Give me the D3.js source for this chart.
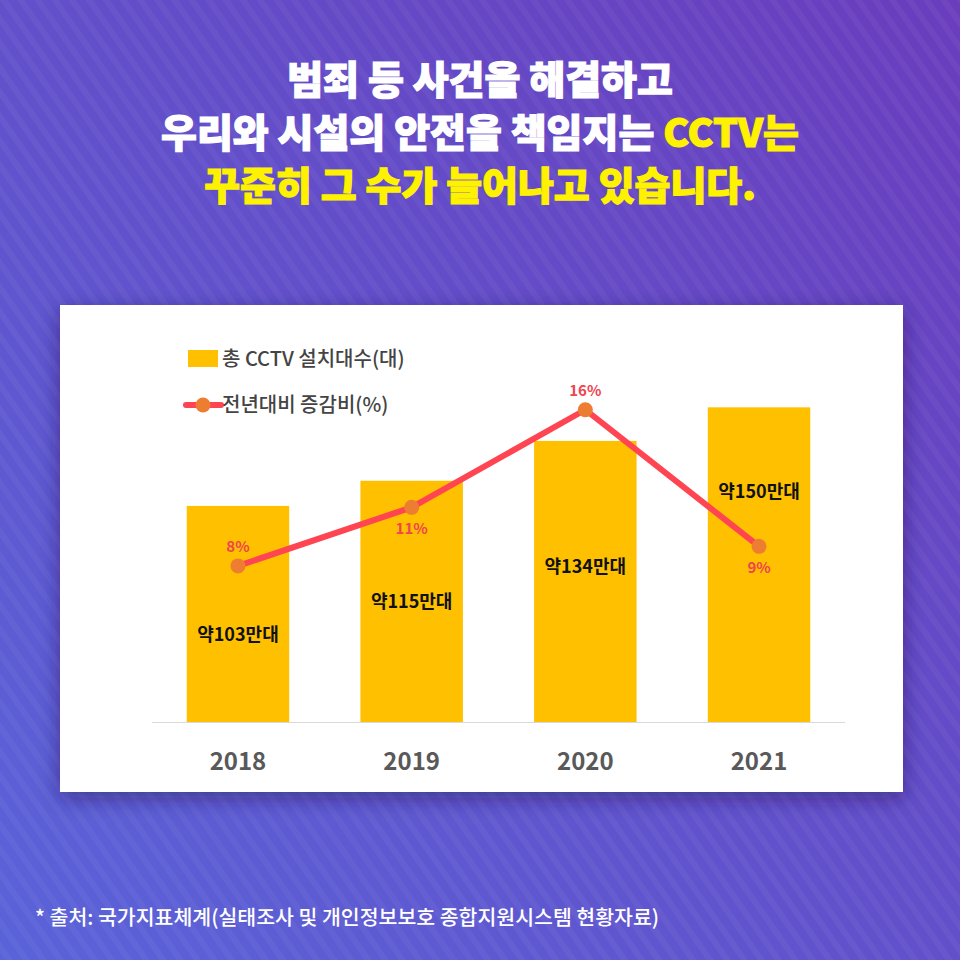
<!DOCTYPE html>
<html><head><meta charset="utf-8">
<script src="https://cdn.jsdelivr.net/npm/d3@7"></script>
<style>body{margin:0}svg{display:block;font-family:"Noto Sans CJK KR","Noto Sans",sans-serif}</style>
</head><body><svg id="c" width="960" height="960"></svg>
<script>
const years = ['2018', '2019', '2020', '2021'];
const units = [103, 115, 134, 150];       // 만대
const growth = [8, 11, 16, 9];             // %
const unitLabels = ['약103만대', '약115만대', '약134만대', '약150만대'];
const growthLabels = ['8%', '11%', '16%', '9%'];

const svg = d3.select('#c');
const defs = svg.append('defs');
const bg = defs.append('linearGradient').attr('id', 'bg').attr('x1', 0).attr('y1', 1).attr('x2', 1).attr('y2', 0);
bg.append('stop').attr('offset', 0).attr('stop-color', '#5a63d8');
bg.append('stop').attr('offset', 1).attr('stop-color', '#6a3dbd');
const pat = defs.append('pattern').attr('id', 'stripes').attr('width', 14).attr('height', 14)
  .attr('patternUnits', 'userSpaceOnUse').attr('patternTransform', 'rotate(-35)');
pat.append('rect').attr('width', 6).attr('height', 14).attr('fill', 'rgba(255,255,255,0.04)');
const sh = defs.append('filter').attr('id', 'sh').attr('x', -0.1).attr('y', -0.1).attr('width', 1.2).attr('height', 1.3);
sh.append('feDropShadow').attr('dx', 0).attr('dy', 6).attr('stdDeviation', 10).attr('flood-color', '#1a0a50').attr('flood-opacity', 0.5);

svg.append('rect').attr('width', 960).attr('height', 960).attr('fill', 'url(#bg)');
svg.append('rect').attr('width', 960).attr('height', 960).attr('fill', 'url(#stripes)');

// title
const title = svg.append('g').attr('font-weight', 900).attr('font-size', 39).attr('text-anchor', 'middle')
  .attr('stroke-width', 1.2);
title.append('text').attr('x', 480).attr('y', 94).attr('fill', '#fff').attr('stroke', '#fff').text('범죄 등 사건을 해결하고');
const t2 = title.append('text').attr('x', 480).attr('y', 147).attr('fill', '#fff').attr('stroke', '#fff');
t2.append('tspan').text('우리와 시설의 안전을 책임지는 ');
t2.append('tspan').attr('fill', '#fff200').attr('stroke', '#fff200').text('CCTV는');
title.append('text').attr('x', 480).attr('y', 200).attr('fill', '#fff200').attr('stroke', '#fff200').text('꾸준히 그 수가 늘어나고 있습니다.');

// panel
svg.append('rect').attr('x', 60).attr('y', 305).attr('width', 843).attr('height', 487)
  .attr('fill', '#fff').attr('filter', 'url(#sh)');

const x = d3.scaleBand().domain(years).range([152, 845]).paddingInner(0.41).paddingOuter(0.2);
const yBar = d3.scaleLinear().domain([0, 153.5]).range([722, 400]);
const yLine = d3.scaleLinear().domain([0, 16.5]).range([722, 400]);
const cx = d => x(d) + x.bandwidth() / 2;

svg.append('g').selectAll('rect').data(years).join('rect')
  .attr('x', d => x(d)).attr('width', x.bandwidth())
  .attr('y', (d, i) => yBar(units[i])).attr('height', (d, i) => 722 - yBar(units[i]))
  .attr('fill', '#ffc000');

svg.append('line').attr('x1', 152).attr('x2', 845).attr('y1', 722.5).attr('y2', 722.5).attr('stroke', '#d9d9d9');

// bar labels (vertical shift per bar to dodge the line)
const labelShift = [20, 0, -15, -74];
svg.append('g').selectAll('text').data(years).join('text')
  .attr('x', cx).attr('y', (d, i) => (yBar(units[i]) + 722) / 2 + labelShift[i] + 7)
  .attr('text-anchor', 'middle').attr('font-size', 18).attr('font-weight', 700).attr('fill', '#111')
  .text((d, i) => unitLabels[i]);

const line = d3.line().x(d => cx(d)).y((d, i) => yLine(growth[i]));
svg.append('path').datum(years).attr('d', line).attr('fill', 'none')
  .attr('stroke', '#ff4552').attr('stroke-width', 6).attr('stroke-linejoin', 'round');
svg.append('g').selectAll('circle').data(years).join('circle')
  .attr('cx', cx).attr('cy', (d, i) => yLine(growth[i])).attr('r', 7.5).attr('fill', '#ed7d31');

const above = [true, false, true, false];
svg.append('g').selectAll('text').data(years).join('text')
  .attr('x', cx).attr('y', (d, i) => yLine(growth[i]) + (above[i] ? -14 : 27))
  .attr('text-anchor', 'middle').attr('font-size', 15).attr('font-weight', 700).attr('fill', '#f0444f')
  .text((d, i) => growthLabels[i]);

svg.append('g').selectAll('text').data(years).join('text')
  .attr('x', cx).attr('y', 770).attr('text-anchor', 'middle')
  .attr('font-size', 24).attr('font-weight', 700).attr('fill', '#595959').text(d => d);

// legend
svg.append('rect').attr('x', 188).attr('y', 350).attr('width', 30).attr('height', 17).attr('fill', '#ffc000');
svg.append('text').attr('x', 222).attr('y', 366).attr('font-size', 20).attr('font-weight', 500).attr('fill', '#444').text('총 CCTV 설치대수(대)');
svg.append('line').attr('x1', 186).attr('x2', 221).attr('y1', 405).attr('y2', 405).attr('stroke', '#ff4552').attr('stroke-width', 6).attr('stroke-linecap', 'round');
svg.append('circle').attr('cx', 203).attr('cy', 405).attr('r', 7.5).attr('fill', '#ed7d31');
svg.append('text').attr('x', 222).attr('y', 412).attr('font-size', 20).attr('font-weight', 500).attr('fill', '#444').text('전년대비 증감비(%)');

svg.append('text').attr('x', 35).attr('y', 925).attr('font-size', 20.5).attr('font-weight', 500).attr('fill', '#fff')
  .text('* 출처: 국가지표체계(실태조사 및 개인정보보호 종합지원시스템 현황자료)');
</script></body></html>
